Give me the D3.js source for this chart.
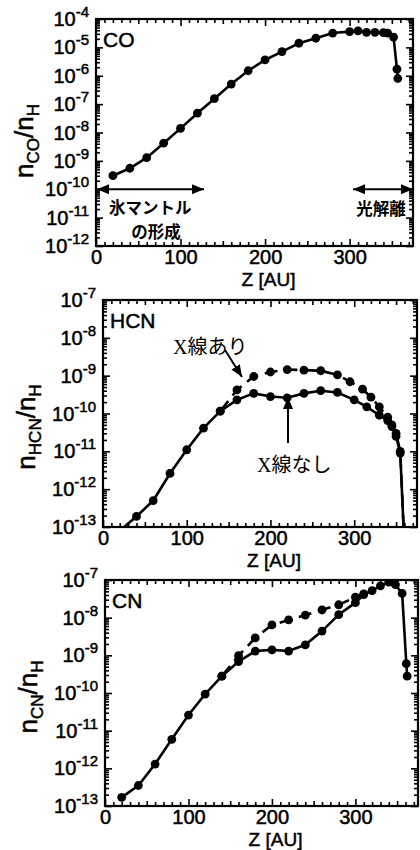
<!DOCTYPE html>
<html><head><meta charset="utf-8">
<script src="https://cdn.jsdelivr.net/npm/d3@7"></script>
<style>
body{margin:0;background:#fff;}
svg{display:block;}
text{font-family:"Liberation Sans",Arial,Helvetica,sans-serif;fill:#000;}
text.hv{stroke:#000;stroke-width:0.5px;}
</style></head><body>
<svg id="c" width="420" height="850"></svg>
<script>
// ---------- data ----------
const zDomain = [0, 375];
const zTickLabels = [0, 100, 200, 300];
const xTitle = "Z [AU]";

// CO
const coZ = [20,40,60,80,100,120,140,160,180,200,220,240,260,280,300,310,320,330,340,345,352,356,357];
const coN = [3e-10,5.5e-10,1.3e-9,4.2e-9,1.4e-8,4.8e-8,1.55e-7,5.1e-7,1.5e-6,3.6e-6,7.1e-6,1.4e-5,2.1e-5,3.2e-5,3.6e-5,3.8e-5,3.4e-5,3.4e-5,3.3e-5,3.2e-5,2.3e-5,1.7e-6,8e-7];

// HCN without X-rays (solid)
const hcnZ = [20,40,60,80,100,120,140,160,180,200,220,240,260,280,300,315,330,340,345,350,355,360];
const hcnNoX = [8e-14,1.9e-13,5e-13,2.6e-12,1.1e-11,4.1e-11,1.15e-10,2.3e-10,3.4e-10,2.8e-10,2.6e-10,3.4e-10,4.0e-10,3.6e-10,2.3e-10,1.5e-10,9e-11,6.5e-11,4.5e-11,2.5e-11,9e-12,3e-14];
// HCN with X-rays (dashed)
const hcnXZ = [140,160,180,200,220,240,260,280,295,310,320,330,340,345,350,355,360];
const hcnX = [1.15e-10,4.2e-10,9.5e-10,1.25e-9,1.45e-9,1.4e-9,1.35e-9,1.05e-9,6.9e-10,4.4e-10,2.7e-10,1.5e-10,8e-11,5e-11,3e-11,1e-11,3e-14];

// CN without X-rays (solid)
const cnZ = [20,40,60,80,100,120,140,160,180,200,220,240,260,280,300,310,320,330,340,348,356,361,362];
const cnNoX = [1.7e-13,3.5e-13,1.3e-12,5.9e-12,2.6e-11,9.3e-11,2.8e-10,6.8e-10,1.3e-9,1.4e-9,1.3e-9,1.9e-9,4.4e-9,1.2e-8,2.5e-8,4.1e-8,5.2e-8,7e-8,8.8e-8,7.5e-8,4.4e-8,6e-10,2.8e-10];
// CN with X-rays (dashed)
const cnXZ = [140,160,180,200,220,240,260,280,300,310];
const cnX = [2.8e-10,9.8e-10,2.9e-9,6.4e-9,8.7e-9,1.17e-8,1.6e-8,2.2e-8,3.5e-8,4.3e-8];

const coExp = [-12, -4];
const hcnExp = [-13, -7];
const cnExp = [-13, -7];

// ---------- layout ----------
const panels = [
  {key:"co", box:{l:96,r:413,t:19,b:246}, exp:coExp, name:"CO", sub:"CO", titleX:33, titleY:141,
   series:[{z:coZ,v:coN,dash:false}]},
  {key:"hcn", box:{l:103,r:417,t:300,b:527}, exp:hcnExp, name:"HCN", sub:"HCN", titleX:35, titleY:427,
   series:[{z:hcnZ,v:hcnNoX,dash:false},{z:hcnXZ,v:hcnX,dash:true}]},
  {key:"cn", box:{l:105,r:418,t:580,b:806}, exp:cnExp, name:"CN", sub:"CN", titleX:37, titleY:697,
   series:[{z:cnZ,v:cnNoX,dash:false},{z:cnXZ,v:cnX,dash:true}]}
];

const svg = d3.select("#c");
const defs = svg.append("defs");
defs.append("marker").attr("id","ah").attr("viewBox","0 0 12 10").attr("refX",12).attr("refY",5)
  .attr("markerWidth",12).attr("markerHeight",10).attr("markerUnits","userSpaceOnUse")
  .attr("orient","auto-start-reverse")
  .append("path").attr("d","M0,0 L12,5 L0,10 Z").attr("fill","#000");

panels.forEach(p => {
  const b = p.box;
  const x = d3.scaleLinear().domain(zDomain).range([b.l, b.r]);
  const y = d3.scaleLog().domain([Math.pow(10,p.exp[0]), Math.pow(10,p.exp[1])]).range([b.b, b.t]);
  const g = svg.append("g");

  defs.append("clipPath").attr("id","clip-"+p.key)
    .append("rect").attr("x",b.l).attr("y",b.t).attr("width",b.r-b.l).attr("height",b.b-b.t);

  // ticks
  const decades = d3.range(p.exp[0], p.exp[1]+1).map(e => Math.pow(10,e));
  const minors = [];
  for (let e = p.exp[0]; e < p.exp[1]; e++) for (let k = 2; k <= 9; k++) minors.push(k*Math.pow(10,e));
  const xMajor = d3.range(0, 376, 100);
  const xMid = d3.range(50, 376, 100);
  const xMinor = d3.range(0, 376, 10).filter(v => v % 50 !== 0);

  const tickSets = [
    [d3.axisLeft(y).tickValues(decades).tickSize(-7), `translate(${b.l},0)`],
    [d3.axisLeft(y).tickValues(minors).tickSize(-4), `translate(${b.l},0)`],
    [d3.axisRight(y).tickValues(decades).tickSize(-7), `translate(${b.r},0)`],
    [d3.axisRight(y).tickValues(minors).tickSize(-4), `translate(${b.r},0)`],
    [d3.axisBottom(x).tickValues(xMajor).tickSize(-7), `translate(0,${b.b})`],
    [d3.axisBottom(x).tickValues(xMid).tickSize(-5), `translate(0,${b.b})`],
    [d3.axisBottom(x).tickValues(xMinor).tickSize(-4), `translate(0,${b.b})`],
    [d3.axisTop(x).tickValues(xMajor).tickSize(-7), `translate(0,${b.t})`],
    [d3.axisTop(x).tickValues(xMid).tickSize(-5), `translate(0,${b.t})`],
    [d3.axisTop(x).tickValues(xMinor).tickSize(-4), `translate(0,${b.t})`]
  ];
  tickSets.forEach(([ax, tr]) => {
    const a = g.append("g").attr("transform", tr).call(ax.tickFormat(""));
    a.select(".domain").remove();
    a.selectAll(".tick line").attr("stroke","#000").attr("stroke-width",1.6);
  });

  // frame
  g.append("rect").attr("x",b.l).attr("y",b.t).attr("width",b.r-b.l).attr("height",b.b-b.t)
    .attr("fill","none").attr("stroke","#000").attr("stroke-width",2.2);

  // y tick labels 10^n
  d3.range(p.exp[0], p.exp[1]+1).forEach(e => {
    const t = g.append("text").attr("class","hv").attr("x", b.l-7).attr("y", y(Math.pow(10,e))+7)
      .attr("text-anchor","end").attr("font-size",20);
    t.append("tspan").text("10");
    t.append("tspan").attr("font-size",15).attr("dy",-9).text("-" + Math.abs(e));
  });

  // x tick labels
  const xl = g.append("g").attr("transform",`translate(0,${b.b})`)
    .call(d3.axisBottom(x).tickValues(zTickLabels).tickSize(0).tickPadding(6).tickFormat(d3.format("d")));
  xl.select(".domain").remove();
  xl.selectAll("text").attr("class","hv").attr("font-size",20).attr("font-family",null).attr("dy",null).attr("y",18)
    .style("dominant-baseline","auto");

  // x title
  g.append("text").attr("class","hv").attr("x",(b.l+b.r)/2+14).attr("y",b.b+39.5).attr("text-anchor","middle")
    .attr("font-size",19).text(xTitle);

  // y title n_X / n_H
  const yt = g.append("text").attr("class","hv").attr("transform",`translate(${p.titleX},${p.titleY}) rotate(-90)`)
    .attr("text-anchor","middle").attr("font-size",26);
  yt.append("tspan").text("n");
  yt.append("tspan").attr("font-size",17).attr("dy",6).text(p.sub);
  yt.append("tspan").attr("dy",-6).text("/n");
  yt.append("tspan").attr("font-size",17).attr("dy",6).text("H");

  // species label
  g.append("text").attr("class","hv").attr("x",b.l+7).attr("y",b.t+28).attr("font-size",21).text(p.name);

  // data
  const plot = g.append("g").attr("clip-path",`url(#clip-${p.key})`);
  const line = d3.line().x(d => x(d[0])).y(d => y(d[1]));
  p.series.forEach(s => {
    const pts = s.z.map((z,i) => [z, s.v[i]]);
    plot.append("path").datum(pts).attr("d",line).attr("fill","none").attr("stroke","#000")
      .attr("stroke-width",2.6).attr("stroke-dasharray", s.dash ? "13,7" : null);
    plot.selectAll(null).data(pts).enter().append("circle")
      .attr("cx",d => x(d[0])).attr("cy",d => y(d[1])).attr("r",4.4).attr("fill","#000");
  });
  p.x = x; p.y = y;
});

// ---------- annotations ----------
const cjk = '"Noto Sans CJK JP", sans-serif';
// Panel 1
const p1 = panels[0];
const yArr = p1.y(1e-10);
svg.append("line").attr("x1",p1.box.l+1).attr("x2",204).attr("y1",yArr).attr("y2",yArr)
  .attr("stroke","#000").attr("stroke-width",2).attr("marker-start","url(#ah)").attr("marker-end","url(#ah)");
svg.append("line").attr("x1",353).attr("x2",p1.box.r).attr("y1",yArr).attr("y2",yArr)
  .attr("stroke","#000").attr("stroke-width",2).attr("marker-start","url(#ah)").attr("marker-end","url(#ah)");
svg.append("text").attr("x",109).attr("y",214).attr("font-size",16.5).attr("font-weight",700)
  .style("font-family",cjk).text("氷マントル");
svg.append("text").attr("x",156).attr("y",238).attr("text-anchor","middle").attr("font-size",16.5).attr("font-weight",700)
  .style("font-family",cjk).text("の形成");
svg.append("text").attr("x",381).attr("y",215).attr("text-anchor","middle").attr("font-size",16.5).attr("font-weight",700)
  .style("font-family",cjk).text("光解離");

// Panel 2
const serifCjk = '"Liberation Serif", "Noto Sans CJK JP", serif';
svg.append("text").attr("x",173).attr("y",354).attr("font-size",20).style("font-family",serifCjk).text("X線あり");
svg.append("text").attr("x",257).attr("y",472).attr("font-size",20).style("font-family",serifCjk).text("X線なし");
svg.append("line").attr("x1",225).attr("y1",350).attr("x2",242).attr("y2",377)
  .attr("stroke","#000").attr("stroke-width",2).attr("marker-end","url(#ah)");
svg.append("line").attr("x1",288).attr("y1",443).attr("x2",288).attr("y2",397)
  .attr("stroke","#000").attr("stroke-width",2).attr("marker-end","url(#ah)");
</script>
</body></html>
